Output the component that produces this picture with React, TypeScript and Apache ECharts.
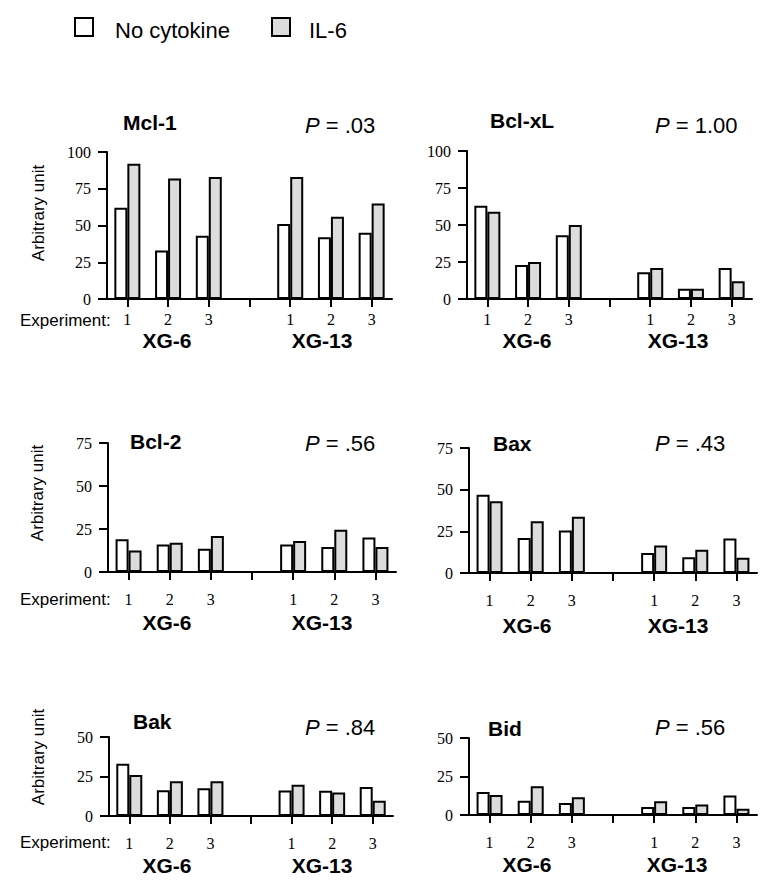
import React, { useEffect, useRef } from "react";
import * as echarts from "echarts";

const categories = ["1", "2", "3", "", "1", "2", "3"];

const mcl1None = [62, 33, 43, null, 51, 42, 45];
const mcl1IL6 = [92, 82, 83, null, 83, 56, 65];
const bclxlNone = [63, 23, 43, null, 18, 7, 21];
const bclxlIL6 = [59, 25, 50, null, 21, 7, 12];
const bcl2None = [19, 16, 13.5, null, 16, 14.5, 20];
const bcl2IL6 = [12.5, 17, 21, null, 18, 24.5, 14.5];
const baxNone = [47, 21, 25.5, null, 12, 9.5, 20.7];
const baxIL6 = [43, 31, 33.7, null, 16.5, 14, 9.2];
const bakNone = [33, 16.3, 17.5, null, 16.2, 16, 18.3];
const bakIL6 = [26, 22, 22, null, 19.7, 14.8, 9.7];
const bidNone = [15, 9.3, 7.8, null, 5.2, 5.2, 12.7];
const bidIL6 = [13, 18.7, 11.5, null, 8.9, 6.8, 4];

const panelNames = ["Mcl-1", "Bcl-xL", "Bcl-2", "Bax", "Bak", "Bid"];
const pValues = [".03", "1.00", ".56", ".43", ".84", ".56"];
const yMaxes = [100, 100, 75, 75, 50, 50];
const legendNames = ["No cytokine", "IL-6"];
const groupNames = ["XG-6", "XG-13"];

const SANS = "Liberation Sans, Arial, sans-serif";
const SERIF = "Liberation Serif, Times New Roman, serif";
const GREY = "#dcdcdc";

const grids = [
  { left: 107, top: 152, width: 285, height: 147 },
  { left: 467, top: 151, width: 285, height: 148 },
  { left: 108, top: 443, width: 288, height: 129 },
  { left: 469, top: 448, width: 288, height: 125 },
  { left: 109, top: 737, width: 284, height: 79 },
  { left: 469, top: 738, width: 288, height: 77 },
];
const labelMargins = [12, 12, 19, 19, 19, 19];

const titlePos = [
  [123, 122, 305, 125],
  [490, 120, 655, 125],
  [130, 441, 305, 443],
  [493, 443, 655, 443],
  [133, 721, 305, 727],
  [488, 728, 655, 727],
];
const groupLabelPos = [
  [167, 322, 340],
  [527, 678, 340],
  [167, 322, 622],
  [527, 678, 625],
  [167, 322, 865],
  [527, 677, 864],
];
const yNamePos = [
  [38, 213],
  [37, 493],
  [38, 757],
];
const experimentY = [320, 599, 842];

export default function App() {
  const ref = useRef<HTMLDivElement>(null);

  useEffect(() => {
    if (!ref.current) return;
    const chart = echarts.init(ref.current, null, { renderer: "svg" });
    const noneData = [mcl1None, bclxlNone, bcl2None, baxNone, bakNone, bidNone];
    const il6Data = [mcl1IL6, bclxlIL6, bcl2IL6, baxIL6, bakIL6, bidIL6];

    const xAxis = grids.map((_, i) => ({
      type: "category",
      gridIndex: i,
      data: categories,
      axisLine: { show: true, lineStyle: { color: "#000", width: 2 } },
      axisTick: { show: true, alignWithLabel: true, length: 8, lineStyle: { color: "#000", width: 2 } },
      axisLabel: { color: "#000", fontFamily: SERIF, fontSize: 16, margin: labelMargins[i], interval: 0 },
      splitLine: { show: false },
    }));
    const yAxis = grids.map((_, i) => ({
      type: "value",
      gridIndex: i,
      min: 0,
      max: yMaxes[i],
      interval: 25,
      axisLine: { show: true, lineStyle: { color: "#000", width: 2 } },
      axisTick: { show: true, length: 9, lineStyle: { color: "#000", width: 2 } },
      axisLabel: { color: "#000", fontFamily: SERIF, fontSize: 16, margin: 16 },
      splitLine: { show: false },
    }));

    const series: any[] = [];
    grids.forEach((_, i) => {
      series.push({
        type: "bar",
        name: legendNames[0],
        xAxisIndex: i,
        yAxisIndex: i,
        data: noneData[i],
        barWidth: 13,
        barGap: "0%",
        itemStyle: { color: "#fff", borderColor: "#000", borderWidth: 2 },
      });
      series.push({
        type: "bar",
        name: legendNames[1],
        xAxisIndex: i,
        yAxisIndex: i,
        data: il6Data[i],
        barWidth: 13,
        barGap: "0%",
        itemStyle: { color: GREY, borderColor: "#000", borderWidth: 2 },
      });
    });

    const graphic: any[] = [];
    // legend
    graphic.push({ type: "rect", shape: { x: 75, y: 18, width: 18, height: 18 }, style: { fill: "#fff", stroke: "#000", lineWidth: 2 } });
    graphic.push({ type: "text", x: 115, y: 30, style: { text: legendNames[0], font: `22px ${SANS}`, fill: "#000", verticalAlign: "middle" } });
    graphic.push({ type: "rect", shape: { x: 272, y: 18, width: 18, height: 18 }, style: { fill: GREY, stroke: "#000", lineWidth: 2 } });
    graphic.push({ type: "text", x: 309, y: 30, style: { text: legendNames[1], font: `22px ${SANS}`, fill: "#000", verticalAlign: "middle" } });

    grids.forEach((_, i) => {
      const [tx, ty, px, py] = titlePos[i];
      graphic.push({ type: "text", x: tx, y: ty, style: { text: panelNames[i], font: `bold 21px ${SANS}`, fill: "#000", verticalAlign: "middle" } });
      graphic.push({
        type: "text",
        x: px,
        y: py,
        style: {
          text: `{i|P} = ${pValues[i]}`,
          font: `22px ${SANS}`,
          fill: "#000",
          verticalAlign: "middle",
          rich: { i: { fontStyle: "italic", fontSize: 22, fontFamily: SANS, fill: "#000" } },
        },
      });
      const [g1, g2, gy] = groupLabelPos[i];
      graphic.push({ type: "text", x: g1, y: gy, style: { text: groupNames[0], font: `bold 21px ${SANS}`, fill: "#000", align: "center", verticalAlign: "middle" } });
      graphic.push({ type: "text", x: g2, y: gy, style: { text: groupNames[1], font: `bold 21px ${SANS}`, fill: "#000", align: "center", verticalAlign: "middle" } });
    });

    yNamePos.forEach(([x, y]) => {
      graphic.push({ type: "text", x, y, rotation: Math.PI / 2, style: { text: "Arbitrary unit", font: `17px ${SANS}`, fill: "#000", align: "center", verticalAlign: "middle" } });
    });
    experimentY.forEach((y) => {
      graphic.push({ type: "text", x: 20, y, style: { text: "Experiment:", font: `17px ${SANS}`, fill: "#000", verticalAlign: "middle" } });
    });

    chart.setOption({
      animation: false,
      backgroundColor: "#fff",
      grid: grids.map((g) => ({ ...g, containLabel: false })),
      xAxis,
      yAxis,
      series,
      graphic,
    });
    return () => chart.dispose();
  }, []);

  return <div ref={ref} style={{ position: "fixed", left: 0, top: 0, width: 773, height: 892 }} />;
}
